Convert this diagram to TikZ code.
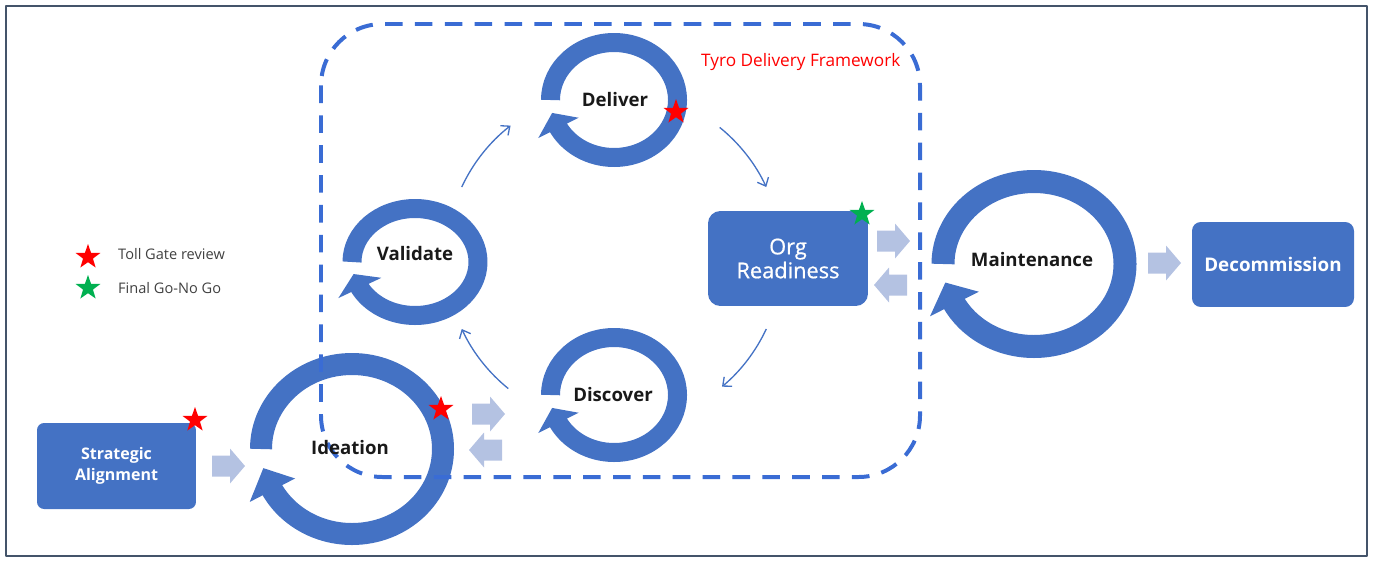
\documentclass[tikz,border=0pt]{standalone}
\usepackage{fontspec}
\setmainfont{Open Sans}
\newfontfamily\orgfont[FakeBold=0.7]{Open Sans}
\usetikzlibrary{shapes.geometric,arrows.meta}
\definecolor{ringblue}{RGB}{68,114,196}
\definecolor{dashblue}{RGB}{58,108,212}
\definecolor{paleblue}{RGB}{180,194,226}
\definecolor{framegray}{RGB}{68,84,106}
\definecolor{gogreen}{RGB}{0,176,80}
\newcommand{\loopring}[5]{%
	\begin{scope}[shift={(#1,#2)}, xscale=#3/#4]
		\draw[ringblue, line width=#5*0.02cm] (180:#4) arc[start angle=-180, end angle=153, radius=#4];
		\fill[ringblue] (151:#4+1.1*#5) -- (167:#4) -- (151:#4-1.1*#5) -- cycle;
	\end{scope}}
\begin{document}
\begin{tikzpicture}[x=0.02cm, y=-0.02cm, line join=round,
	stage/.style={fill=ringblue, text=white, align=center, inner sep=0pt, font=\bfseries\fontsize{9.1}{11.9}\selectfont},
	phase/.style={text=black!90, font=\bfseries\fontsize{10.6}{13}\selectfont},
	flow/.style={ringblue, line width=0.75pt, -{Straight Barb[length=4pt,width=7pt]}},
	tollgate/.style={star, star points=5, star point ratio=2.5, fill=red, inner sep=0pt, minimum size=0.52cm},
	gonogo/.style={tollgate, fill=gogreen},
	keytext/.style={anchor=west, text=black!75, font=\fontsize{8.3}{10}\selectfont}]
	\useasboundingbox (0,0) rectangle (1378,568);
	\draw[framegray, line width=1.2pt] (6,6) rectangle (1367,556);
	\loopring{352}{449}{91}{85}{22}
	\loopring{1034}{264}{91}{82.5}{23}
	\loopring{614}{100}{63.5}{57.5}{19}
	\loopring{415}{262}{63}{53.5}{19}
	\loopring{614}{395}{63.5}{57.5}{19}
	\draw[dashblue, line width=2.27pt, dash pattern=on 10pt off 7pt, rounded corners=35pt] (321,24) rectangle (920,477);
	\node[phase] (deliver) at (615,100) {Deliver};
	\node[phase] (validate) at (415,254) {Validate};
	\node[phase] (discover) at (613,395) {Discover};
	\node[phase] (ideation) at (350,448) {Ideation};
	\node[phase] (maint) at (1032,260) {Maintenance};
	\node[stage, minimum width=3.18cm, minimum height=1.72cm, rounded corners=4pt] (strat) at (116.5,466) {Strategic\\Alignment};
	\node[stage, font=\orgfont\fontsize{12.4}{13.6}\selectfont, minimum width=3.2cm, minimum height=1.9cm, rounded corners=7pt] (org) at (788,258.5) {Org\\Readiness};
	\node[stage, font=\bfseries\fontsize{10.7}{13}\selectfont, minimum width=3.24cm, minimum height=1.7cm, rounded corners=5pt] (decom) at (1273,264.5) {Decommission};
	\foreach \x/\y/\s in {245/466/1, 505/414/1, 469/450/-1, 910/241/1, 874/285/-1, 1181/263/1}
		\fill[paleblue] (\x,\y) -- ++(-15*\s,-17.5) -- ++(0,7) -- ++(-18*\s,0) -- ++(0,21) -- ++(18*\s,0) -- ++(0,7) -- cycle;
	\coordinate (hub) at (614,258);
	\path (hub) ++(-155:168) coordinate (v-out) (hub) ++(-51:168) coordinate (d-out)
		(hub) ++(25:168) coordinate (o-out) (hub) ++(129:168) coordinate (c-out);
	\draw[flow] (v-out) arc[start angle=-155, end angle=-128, radius=168];
	\draw[flow] (d-out) arc[start angle=-51, end angle=-25, radius=168];
	\draw[flow] (o-out) arc[start angle=25, end angle=50, radius=168];
	\draw[flow] (c-out) arc[start angle=129, end angle=155, radius=168];
	\node[tollgate] (tg-strat) at (195,420) {};
	\node[tollgate] (tg-idea) at (441,409) {};
	\node[tollgate] (tg-deliv) at (676,112) {};
	\node[gonogo] (go-org) at (862,214) {};
	\node[tollgate] (key-tg) at (88,257) {};
	\node[gonogo] (key-go) at (88,288) {};
	\node[keytext] (key-tg-text) at (112,254) {Toll Gate review};
	\node[keytext] (key-go-text) at (112,288) {Final Go-No Go};
	\node[anchor=west, text=red, font=\fontsize{9.8}{12}\selectfont] (tdf) at (695,62) {Tyro Delivery Framework};
\end{tikzpicture}
\end{document}
